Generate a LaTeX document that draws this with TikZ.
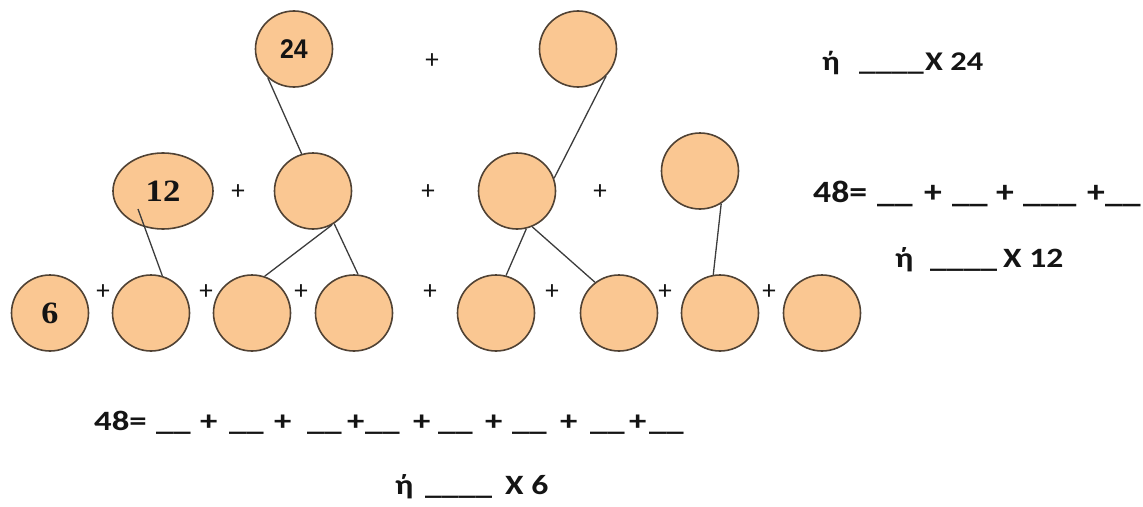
\documentclass[tikz,border=0pt]{standalone}
\usepackage{fontspec}
\usepackage{graphicx}
\setmainfont{Carlito}
\newfontfamily\numsans{Liberation Sans}
\newfontfamily\numserif{Liberation Serif}
\usetikzlibrary{shapes.geometric}
\definecolor{ballfill}{RGB}{250,199,146}
\definecolor{balledge}{RGB}{80,66,52}
\definecolor{linkcol}{RGB}{60,60,60}
\definecolor{inkcol}{RGB}{20,20,20}
\newcommand\tokscale{1}
% place a piece of text at a horizontal offset (pt) from the node start
\newcommand\tokat[2]{\makebox[0pt][l]{\hspace*{#1pt}\scalebox{\tokscale}[1]{#2}}}
\tikzset{
  ball/.style={ellipse, draw=balledge, fill=ballfill, line width=1.6pt,
    minimum width=77pt, minimum height=76pt, inner sep=0pt},
  link/.style={draw=linkcol, line width=1.3pt},
  plussign/.style={font=\fontsize{27}{27}\selectfont, text=inkcol, inner sep=0pt},
  eqtext/.style n args={2}{font=\bfseries\fontsize{#1}{#1}\selectfont, text=inkcol,
    anchor=base west, inner sep=0pt, execute at begin node={\renewcommand\tokscale{#2}}},
  sansnum/.style={font=\numsans\bfseries\fontsize{27}{27}\selectfont, text=inkcol},
  serifnum/.style={font=\numserif\bfseries\fontsize{31}{31}\selectfont, text=inkcol},
}
\begin{document}
\begin{tikzpicture}[x=1pt,y=-1pt]
\useasboundingbox (0,0) rectangle (1143,506);

% top row
\node[ball, sansnum] (n24) at (294,49) {\scalebox{0.92}[1]{24}};
\node[ball] (t2) at (578,49) {};
\node[plussign] (p0) at (432,61) {+};

% middle row
\node[ball, serifnum, minimum width=100pt] (e12) at (163,191) {\scalebox{1.12}[1]{12}};
\node[ball] (m2) at (313,191) {};
\node[ball] (m3) at (517,191) {};
\node[ball] (m4) at (700,171) {};
\node[plussign] (p1) at (238,192) {+};
\node[plussign] (p2) at (428,192) {+};
\node[plussign] (p3) at (600,192) {+};

% bottom row
\node[ball, serifnum] (b0) at (50,313) {\scalebox{1.1}[1]{6}};
\node[ball] (b1) at (151,313) {};
\node[ball] (b2) at (252,313) {};
\node[ball] (b3) at (354,313) {};
\node[ball] (b4) at (496,313) {};
\node[ball] (b5) at (619,313) {};
\node[ball] (b6) at (720,313) {};
\node[ball] (b7) at (822,313) {};
\node[plussign] (q1) at (103,292) {+};
\node[plussign] (q2) at (206,292) {+};
\node[plussign] (q3) at (301,292) {+};
\node[plussign] (q4) at (430,292) {+};
\node[plussign] (q5) at (552,292) {+};
\node[plussign] (q6) at (665,292) {+};
\node[plussign] (q7) at (769,292) {+};

% connectors
\coordinate (e12in) at (138,209);
\draw[link] (n24.228) -- (m2.107);
\draw[link] (t2.316) -- (m3.19);
\draw[link] (e12in) -- (b1.73);
\draw[link] (m2.299) -- (b2.71);
\draw[link] (m2.303) -- (b3.84);
\draw[link] (m3.284) -- (b4.75);
\draw[link] (m3.293) -- (b5.128);
\draw[link] (m4.303) -- (b6.100);

% texts
\node[eqtext={27}{1.2}] (r1) at (822,70)
  {\tokat{0}{ή}\tokat{37}{\_\_\_\_}\tokat{103}{X 24}\hspace*{163pt}};
\node[eqtext={31}{1.15}] (r2) at (813,202)
  {\tokat{0}{48=}\tokat{64}{\_\_}\tokat{111}{+}\tokat{139}{\_\_}\tokat{183}{+}%
   \tokat{210}{\_\_\_}\tokat{274}{+}\tokat{292}{\_\_}\hspace*{329pt}};
\node[eqtext={28}{1.2}] (r3) at (895,267)
  {\tokat{0}{ή}\tokat{35}{\_\_\_\_}\tokat{108}{X 12}\hspace*{172pt}};
\node[eqtext={28}{1.24}] (s1) at (94,430)
  {\tokat{0}{48=}\tokat{62}{\_\_}\tokat{106}{+}\tokat{135}{\_\_}\tokat{180}{+}%
   \tokat{213}{\_\_}\tokat{253}{+}\tokat{271}{\_\_}\tokat{319}{+}\tokat{344}{\_\_}%
   \tokat{391}{+}\tokat{418}{\_\_}\tokat{466}{+}\tokat{496}{\_\_}\tokat{535}{+}%
   \tokat{555}{\_\_}\hspace*{590pt}};
\node[eqtext={28}{1.2}] (s2) at (395,494)
  {\tokat{0}{ή}\tokat{30}{\_\_\_\_}\tokat{110}{X 6}\hspace*{152pt}};
\end{tikzpicture}
\end{document}
